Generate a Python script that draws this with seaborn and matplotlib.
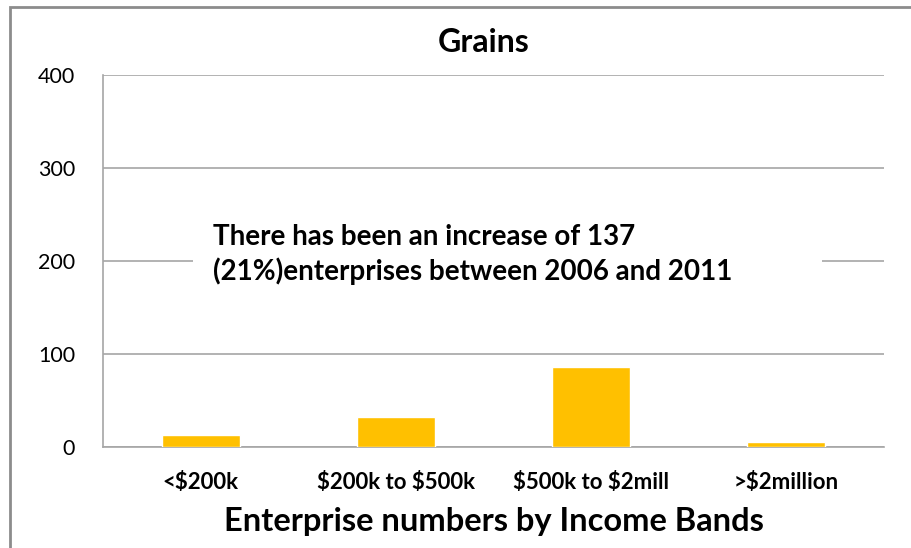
import matplotlib
matplotlib.use("Agg")
import matplotlib.pyplot as plt
import matplotlib.patches as mpatches
from matplotlib.ticker import FixedLocator
import seaborn as sns
import pandas as pd

categories = ["<$200k", "$200k to $500k", "$500k to $2mill", ">$2million"]
values = [13, 32, 86, 5]
yticks = [0, 100, 200, 300, 400]
title = "Grains"
xlabel = "Enterprise numbers by Income Bands"
note = "There has been an increase of 137\n(21%)enterprises between 2006 and 2011"

sns.set_style("white")
plt.rcParams["font.family"] = ["Lato", "DejaVu Sans"]
plt.rcParams["text.parse_math"] = False
plt.rcParams["text.color"] = "black"
plt.rcParams["xtick.color"] = "black"
plt.rcParams["ytick.color"] = "black"

W, H = 912, 548
fig = plt.figure(figsize=(W / 100, H / 100), dpi=100)
ax = fig.add_axes([103 / W, 1 - 447 / H, (884 - 103) / W, (447 - 75) / H])

df = pd.DataFrame({"band": categories, "n": values})
sns.barplot(data=df, x="band", y="n", color="#FFC000", saturation=1, width=0.4, ax=ax, zorder=3)

ax.set_ylim(0, 400)
ax.set_xlim(-0.5, 3.5)
ax.set_yticks(yticks)
ax.set_yticklabels([str(v) for v in yticks], fontsize=15.5)
ax.yaxis.grid(True, color="#a6a6a6", linewidth=1.2, zorder=0)
ax.set_axisbelow(True)
ax.set_xticks(range(len(categories)))
ax.set_xticklabels(categories, fontsize=16, fontweight="bold")
ax.tick_params(axis="x", length=0, pad=18, colors="black")
ax.tick_params(axis="y", length=7, color="#a6a6a6", width=1.2, pad=13, labelcolor="black")
ax.xaxis.set_minor_locator(FixedLocator([-0.5, 0.5, 1.5, 2.5, 3.5]))
ax.tick_params(axis="x", which="minor", length=8, color="#a6a6a6", width=1.2)
for s in ["top", "right"]:
    ax.spines[s].set_visible(False)
for s in ["left", "bottom"]:
    ax.spines[s].set_color("#a6a6a6")
    ax.spines[s].set_linewidth(1.2)
ax.set_xlabel(xlabel, fontsize=23.5, fontweight="bold", labelpad=10, color="black")
ax.set_ylabel("")

fig.text(484 / W, 1 - 43 / H, title, ha="center", va="center", fontsize=23, fontweight="bold", color="black")

# white text box covering the gridline
box = mpatches.Rectangle((0.115, 0.43), 0.806, 0.15, transform=ax.transAxes,
                         facecolor="white", edgecolor="none", zorder=4)
ax.add_patch(box)
ax.text(0.141, 0.517, note, transform=ax.transAxes, ha="left", va="center", fontsize=20,
        fontweight="bold", linespacing=1.3, color="black", zorder=5)

border = mpatches.Rectangle((10 / W, -0.05), 1.2, 1 - 7 / H + 0.05, transform=fig.transFigure,
                            fill=False, edgecolor="#8c8c8c", linewidth=2, clip_on=False)
fig.patches.append(border)

fig.savefig("out.png", dpi=100)
